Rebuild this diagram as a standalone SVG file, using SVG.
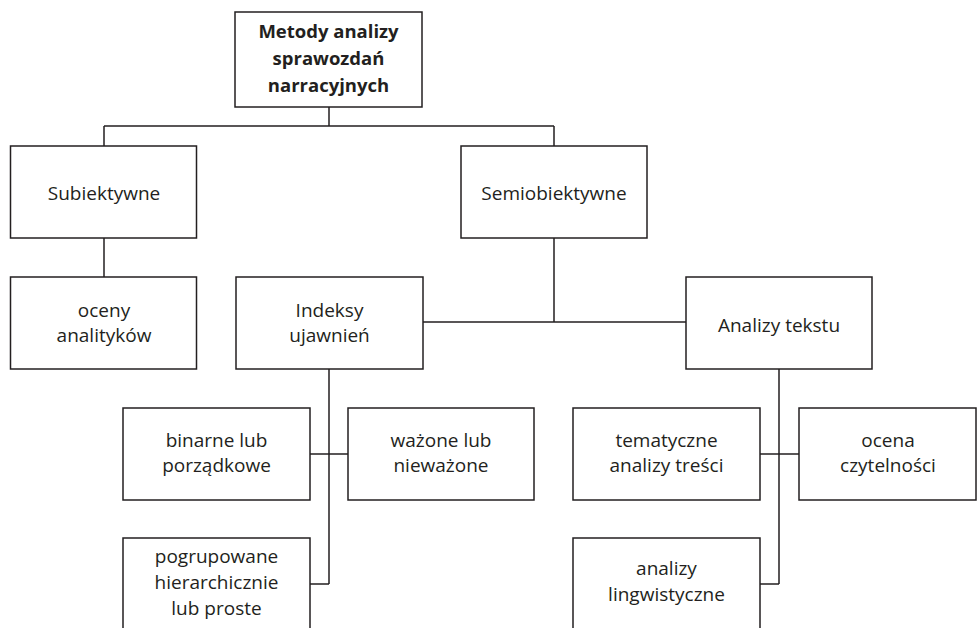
<svg xmlns="http://www.w3.org/2000/svg" width="977" height="628" viewBox="0 0 977 628">
<style>
.box{fill:#fff;stroke:#231f20;stroke-width:1.5}
.ln{fill:none;stroke:#231f20;stroke-width:1.5}
text{font-family:"Open Sans","Noto Sans",sans-serif;font-size:19px;fill:#231f20;text-anchor:middle}
.b{font-weight:bold;font-size:18.5px}
</style>
<rect width="977" height="628" fill="#fff"/>
<g id="connectors">
<path class="ln" d="M329 107V126M104 126H554M104 126V146M554 126V146"/>
<path class="ln" d="M104 238V277"/>
<path class="ln" d="M554 238V322M423 322H686"/>
<path class="ln" d="M329 369V584M310 454H348M310 584H329"/>
<path class="ln" d="M779 369V584M760 454H799M760 584H779"/>
</g>
<g id="root"><rect class="box" x="235" y="12" width="187" height="95"/>
<text class="b" x="328.5" y="38">Metody analizy</text><text class="b" x="328.5" y="65">sprawozdań</text><text class="b" x="328.5" y="92">narracyjnych</text></g>
<g id="subiektywne"><rect class="box" x="10.5" y="146" width="186" height="92"/><text x="104" y="200">Subiektywne</text></g>
<g id="semiobiektywne"><rect class="box" x="461" y="146" width="186" height="92"/><text x="554" y="200">Semiobiektywne</text></g>
<g id="oceny"><rect class="box" x="10.5" y="277" width="186" height="92"/><text x="104" y="317">oceny</text><text x="104" y="342">analityków</text></g>
<g id="indeksy"><rect class="box" x="236" y="277" width="187" height="92"/><text x="329.5" y="317">Indeksy</text><text x="329.5" y="342">ujawnień</text></g>
<g id="analizy-tekstu"><rect class="box" x="686" y="277" width="186" height="92"/><text x="779" y="332">Analizy tekstu</text></g>
<g id="binarne"><rect class="box" x="123" y="408" width="187" height="92"/><text x="216.5" y="447">binarne lub</text><text x="216.5" y="472">porządkowe</text></g>
<g id="wazone"><rect class="box" x="348" y="408" width="186" height="92"/><text x="441" y="447">ważone lub</text><text x="441" y="472">nieważone</text></g>
<g id="tematyczne"><rect class="box" x="573" y="408" width="187" height="92"/><text x="666.5" y="447">tematyczne</text><text x="666.5" y="472">analizy treści</text></g>
<g id="ocena"><rect class="box" x="799" y="408" width="177" height="92"/><text x="888" y="447">ocena</text><text x="888" y="472">czytelności</text></g>
<g id="pogrupowane"><rect class="box" x="123" y="538" width="187" height="94"/><text x="216.5" y="563">pogrupowane</text><text x="216.5" y="589">hierarchicznie</text><text x="216.5" y="615">lub proste</text></g>
<g id="lingwistyczne"><rect class="box" x="573" y="538" width="187" height="94"/><text x="666.5" y="575">analizy</text><text x="666.5" y="601">lingwistyczne</text></g>
</svg>
